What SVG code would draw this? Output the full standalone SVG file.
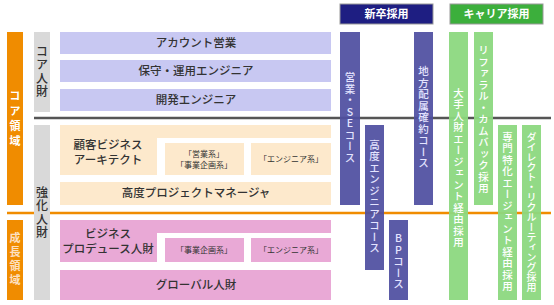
<svg xmlns="http://www.w3.org/2000/svg" width="554" height="305" viewBox="0 0 554 305">
<style>
text{font-family:"Noto Sans CJK JP","Noto Sans CJK SC",sans-serif;}
.lbl{font-size:11.5px;fill:#333;text-anchor:middle;font-weight:500;}
.sm{font-size:8px;fill:#333;text-anchor:middle;}
.v{writing-mode:vertical-rl;text-orientation:upright;text-anchor:middle;font-size:10.5px;letter-spacing:1px;font-weight:500;}
.vw{fill:#ffffff;}
.vn{fill:#e4e4ff;}
.vd{fill:#333;font-size:12px;letter-spacing:1.5px;}
.or{fill:#f08c00;}
.gr{fill:#d9d9d9;}
.lav{fill:#c8c8f2;}
.pch{fill:#fde9cc;}
.pnk{fill:#e9a9d6;}
.nav{fill:#4f4fa0;fill-opacity:0.93;}
.grn{fill:#8cd880;fill-opacity:0.95;}
</style>
<g id="lines">
<line x1="34" y1="118" x2="551" y2="118" stroke="#555" stroke-width="2.5"/>
<line x1="7" y1="213" x2="551" y2="213" stroke="#f08c00" stroke-width="2.5"/>
</g>
<g id="core-domain"><rect class="or" x="7" y="32" width="16" height="173"/><text class="v vw" x="15" y="120" style="font-size:11px;font-weight:bold;letter-spacing:4px">コア領域</text></g>
<g id="growth-domain"><rect class="or" x="7" y="220" width="16" height="80"/><text class="v" x="15" y="260" style="font-size:11px;font-weight:bold;letter-spacing:3px;fill:#fde0c0">成長領域</text></g>
<g id="core-talent"><rect class="gr" x="34" y="32" width="16" height="80"/><text class="v vd" x="42" y="72">コア人財</text></g>
<g id="strength-talent"><rect class="gr" x="34" y="125" width="16" height="175"/><text class="v vd" x="42" y="213">強化人財</text></g>

<g id="account"><rect class="lav" x="60" y="32" width="271" height="22"/><text class="lbl" x="196" y="47">アカウント営業</text></g>
<g id="maintenance"><rect class="lav" x="60" y="60" width="271" height="22"/><text class="lbl" x="196" y="75">保守・運用エンジニア</text></g>
<g id="dev"><rect class="lav" x="60" y="89" width="271" height="22"/><text class="lbl" x="196" y="104">開発エンジニア</text></g>

<g id="client-architect"><path class="pch" d="M60 125H331V138H157V175H60Z"/><text class="lbl" x="108" y="149">顧客ビジネス</text><text class="lbl" x="108" y="164">アーキテクト</text></g>
<g id="arch-sales"><rect class="pch" x="165" y="143" width="79" height="32"/><text class="sm" x="204" y="157">「営業系」</text><text class="sm" x="204" y="168">「事業企画系」</text></g>
<g id="arch-eng"><rect class="pch" x="251" y="143" width="80" height="32"/><text class="sm" x="291" y="162">「エンジニア系」</text></g>
<g id="pm"><rect class="pch" x="60" y="182" width="271" height="23"/><text class="lbl" x="196" y="197">高度プロジェクトマネージャ</text></g>

<g id="business-producer"><path class="pnk" d="M60 220H331V233H157V262H60Z"/><text class="lbl" x="108" y="238">ビジネス</text><text class="lbl" x="108" y="253">プロデュース人財</text></g>
<g id="bp-plan"><rect class="pnk" x="165" y="238" width="79" height="24"/><text class="sm" x="204" y="253">「事業企画系」</text></g>
<g id="bp-eng"><rect class="pnk" x="251" y="238" width="80" height="24"/><text class="sm" x="291" y="253">「エンジニア系」</text></g>
<g id="global"><rect class="pnk" x="60" y="270" width="271" height="30"/><text class="lbl" x="196" y="289">グローバル人財</text></g>

<g id="new-grad"><rect x="340" y="4" width="93" height="20" fill="#1e1e82" stroke="#999" stroke-width="1"/><text x="386.5" y="18" style="font-size:11px;font-weight:bold;fill:#fff;text-anchor:middle">新卒採用</text></g>
<g id="career"><rect x="450" y="4" width="93" height="20" fill="#3caf3c" stroke="#999" stroke-width="1"/><text x="496.5" y="18" style="font-size:11px;font-weight:bold;fill:#fff;text-anchor:middle">キャリア採用</text></g>

<g id="sales-se"><rect class="nav" x="340" y="32" width="20" height="173"/><text class="v vn" x="350" y="118">営業・SEコース</text></g>
<g id="adv-eng"><rect class="nav" x="365" y="125" width="19" height="145"/><text class="v vn" x="374.5" y="197">高度エンジニアコース</text></g>
<g id="bp-course"><rect class="nav" x="389" y="220" width="19" height="80"/><text class="v vn" x="398.5" y="262">BPコース</text></g>
<g id="regional"><rect class="nav" x="414" y="32" width="19" height="173"/><text class="v vn" x="423.5" y="118">地方配属確約コース</text></g>

<g id="agent-major"><rect class="grn" x="449" y="32" width="19" height="268"/><text class="v vw" x="458.5" y="168">大手人財エージェント経由採用</text></g>
<g id="referral"><rect class="grn" x="474" y="32" width="19" height="173"/><text class="v vw" x="483.5" y="120">リファラル・カムバック採用</text></g>
<g id="agent-special"><rect class="grn" x="498" y="125" width="19" height="175"/><text class="v vw" x="507.5" y="212">専門特化エージェント経由採用</text></g>
<g id="direct"><rect class="grn" x="522" y="125" width="19" height="175"/><text class="v vw" x="531.5" y="212" style="font-size:10px;letter-spacing:0px">ダイレクト・リクルーティング採用</text></g>
</svg>
